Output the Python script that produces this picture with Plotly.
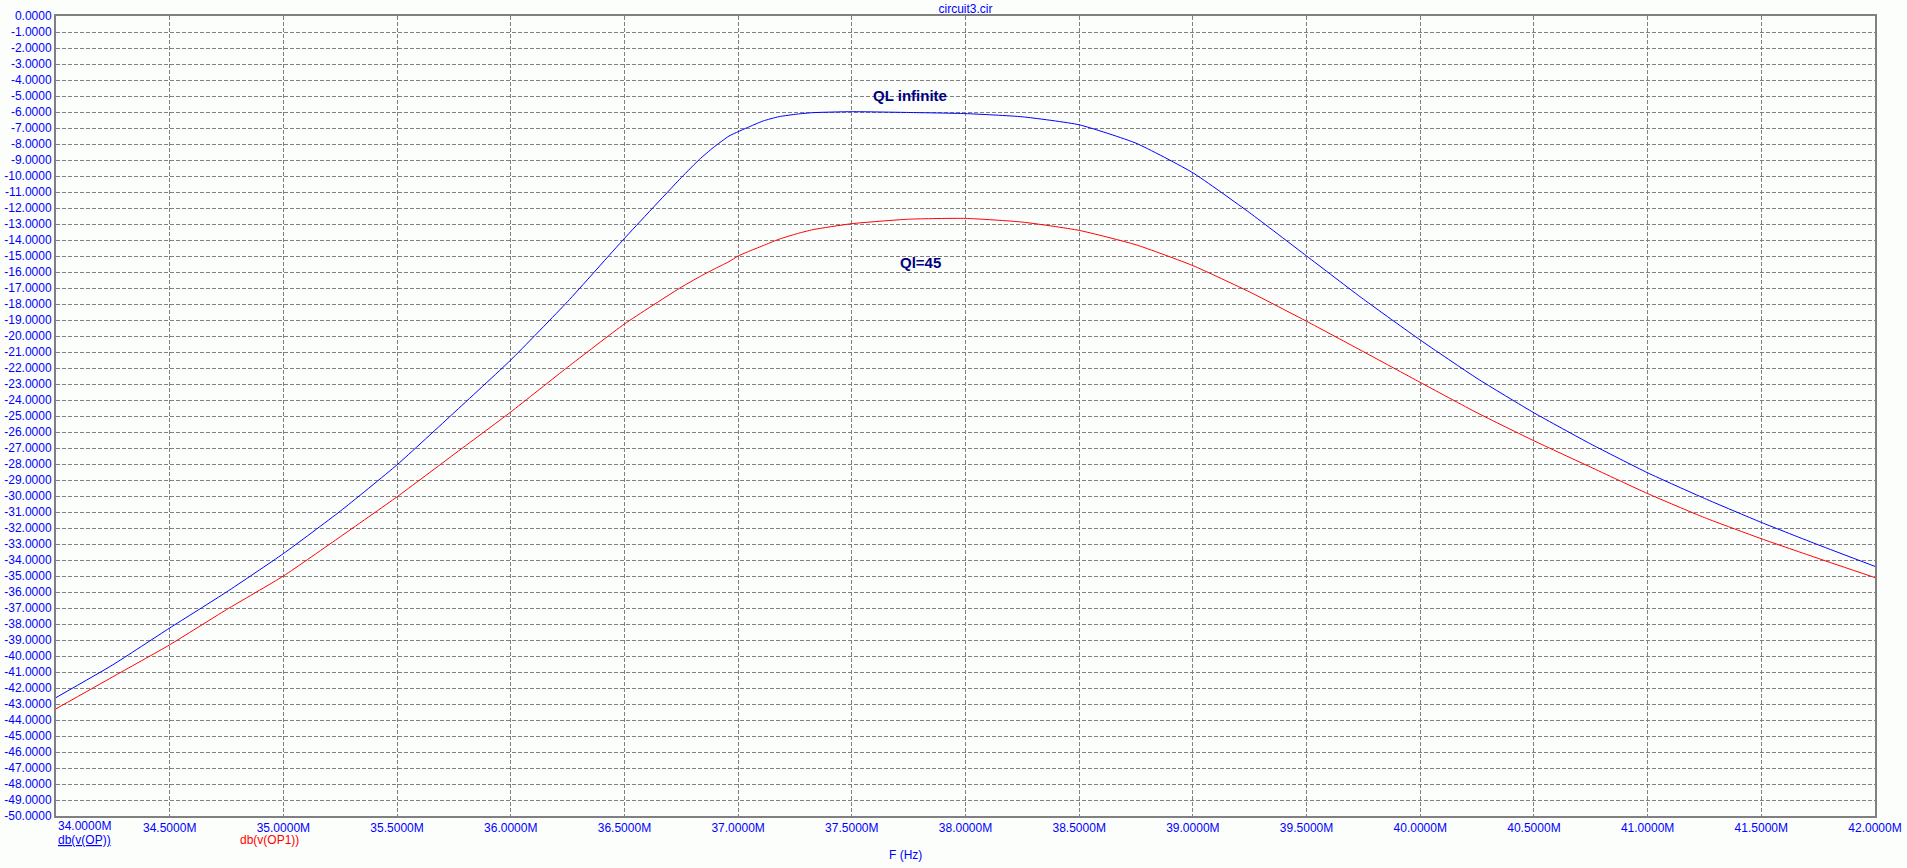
import plotly.graph_objects as go

# ---- data -------------------------------------------------------------
freq_mhz = [34.0, 34.25, 34.5, 34.75, 35.0, 35.25, 35.5, 35.75, 36.0, 36.25,
            36.5, 36.75, 36.83, 36.89, 36.96, 37.0, 37.04, 37.11, 37.18, 37.26,
            37.33, 37.5, 37.75, 38.0, 38.25, 38.5, 38.75, 39.0, 39.25, 39.5,
            39.75, 40.0, 40.25, 40.5, 40.75, 41.0, 41.25, 41.5, 41.75, 42.0]

db_op = [-42.6, -40.55, -38.25, -36.0, -33.6, -30.95, -28.05, -24.8, -21.5, -17.85,
         -13.9, -10.1, -8.96, -8.23, -7.5, -7.23, -6.98, -6.56, -6.29, -6.13,
         -6.04, -5.98, -6.03, -6.1, -6.3, -6.8, -7.95, -9.8, -12.3, -15.0,
         -17.7, -20.25, -22.65, -24.8, -26.75, -28.55, -30.15, -31.65, -33.05, -34.4]

db_op1 = [-43.3, -41.3, -39.3, -37.1, -35.0, -32.55, -30.05, -27.4, -24.75, -21.95,
          -19.25, -16.95, -16.3, -15.85, -15.35, -15.0, -14.75, -14.35, -13.95, -13.6,
          -13.35, -12.98, -12.7, -12.65, -12.88, -13.4, -14.3, -15.6, -17.25, -19.08,
          -20.98, -22.9, -24.8, -26.55, -28.2, -29.85, -31.35, -32.67, -33.9, -35.1]

x_tick_vals = [34.5, 35.0, 35.5, 36.0, 36.5, 37.0, 37.5, 38.0, 38.5, 39.0,
               39.5, 40.0, 40.5, 41.0, 41.5, 42.0]
x_first_tick = 34.0
y_tick_vals = list(range(0, -51, -1))

title_text = "circuit3.cir"
x_title = "F (Hz)"
trace_names = ["db(v(OP))", "db(v(OP1))"]
ann_ql_inf = ("QL infinite", 37.755, -4.94)
ann_ql45 = ("Ql=45", 37.80, -15.375)

def fmt_num(v):
    return "%.4f" % v

x_tick_text = [fmt_num(v) + "M" for v in x_tick_vals]
y_tick_text = [fmt_num(v) for v in y_tick_vals]

# ---- style ------------------------------------------------------------
FONT = "Liberation Sans, Arial, sans-serif"
BLUE = "#0000FF"
RED = "#FF0000"
NAVY = "#000080"
GRID = "#808080"
BG = "#FCFEFC"

fig = go.Figure()
fig.add_trace(go.Scatter(x=freq_mhz, y=db_op, mode="lines", name=trace_names[0],
                         line=dict(color=BLUE, width=1, shape="spline", smoothing=0.5)))
fig.add_trace(go.Scatter(x=freq_mhz, y=db_op1, mode="lines", name=trace_names[1],
                         line=dict(color=RED, width=1, shape="spline", smoothing=0.5)))

fig.update_layout(
    width=1907, height=868,
    margin=dict(l=56, r=32, t=16, b=52, autoexpand=False),
    paper_bgcolor=BG, plot_bgcolor=BG,
    showlegend=False,
    font=dict(family=FONT, size=12, color=BLUE),
    title=dict(text=title_text, x=0.5, xref="paper", y=1 - 9 / 868, yref="container",
               yanchor="middle", xanchor="center", automargin=False,
               font=dict(family=FONT, size=12, color=BLUE)),
)

fig.update_xaxes(
    range=[34.0, 42.0], tickmode="array", tickvals=x_tick_vals, ticktext=x_tick_text,
    showgrid=True, gridcolor=GRID, gridwidth=1, griddash="4px,2px",
    showline=True, linecolor=GRID, linewidth=2, mirror=True, automargin=False,
    ticks="", zeroline=False, tickfont=dict(family=FONT, size=12, color=BLUE),
)
fig.update_yaxes(
    range=[-50.0, 0.0], tickmode="array", tickvals=y_tick_vals, ticktext=y_tick_text,
    showgrid=True, gridcolor=GRID, gridwidth=1, griddash="4px,2px",
    showline=True, linecolor=GRID, linewidth=2, mirror=True, automargin=False,
    ticks="", zeroline=False, tickfont=dict(family=FONT, size=12, color=BLUE),
)

# first x tick label (left-aligned at the axis corner)
fig.add_annotation(text=fmt_num(x_first_tick) + "M", xref="x", x=x_first_tick,
                   yref="paper", y=0, xanchor="left", yanchor="middle", yshift=-10,
                   showarrow=False, font=dict(family=FONT, size=12, color=BLUE))
# axis title
fig.add_annotation(text=x_title, xref="paper", x=0.467, yref="paper", y=0,
                   xanchor="center", yanchor="middle", yshift=-39,
                   showarrow=False, font=dict(family=FONT, size=12, color=BLUE))
# trace labels
fig.add_annotation(text="<u>" + trace_names[0] + "</u>", xref="paper", x=0, yref="paper", y=0,
                   xanchor="left", yanchor="middle", yshift=-24,
                   showarrow=False, font=dict(family=FONT, size=12, color=BLUE))
fig.add_annotation(text=trace_names[1], xref="paper", x=0.1, yref="paper", y=0,
                   xanchor="left", yanchor="middle", yshift=-24,
                   showarrow=False, font=dict(family=FONT, size=12, color=RED))
# curve labels
for txt, ax_, ay_ in (ann_ql_inf, ann_ql45):
    fig.add_annotation(text="<b>" + txt + "</b>", x=ax_, y=ay_, xref="x", yref="y",
                       xanchor="center", yanchor="middle", showarrow=False,
                       font=dict(family=FONT, size=15, color=NAVY))

fig.write_html("out.html", config={"displayModeBar": False},
               post_script="document.body.style.margin='0';document.body.style.overflow='hidden';")
